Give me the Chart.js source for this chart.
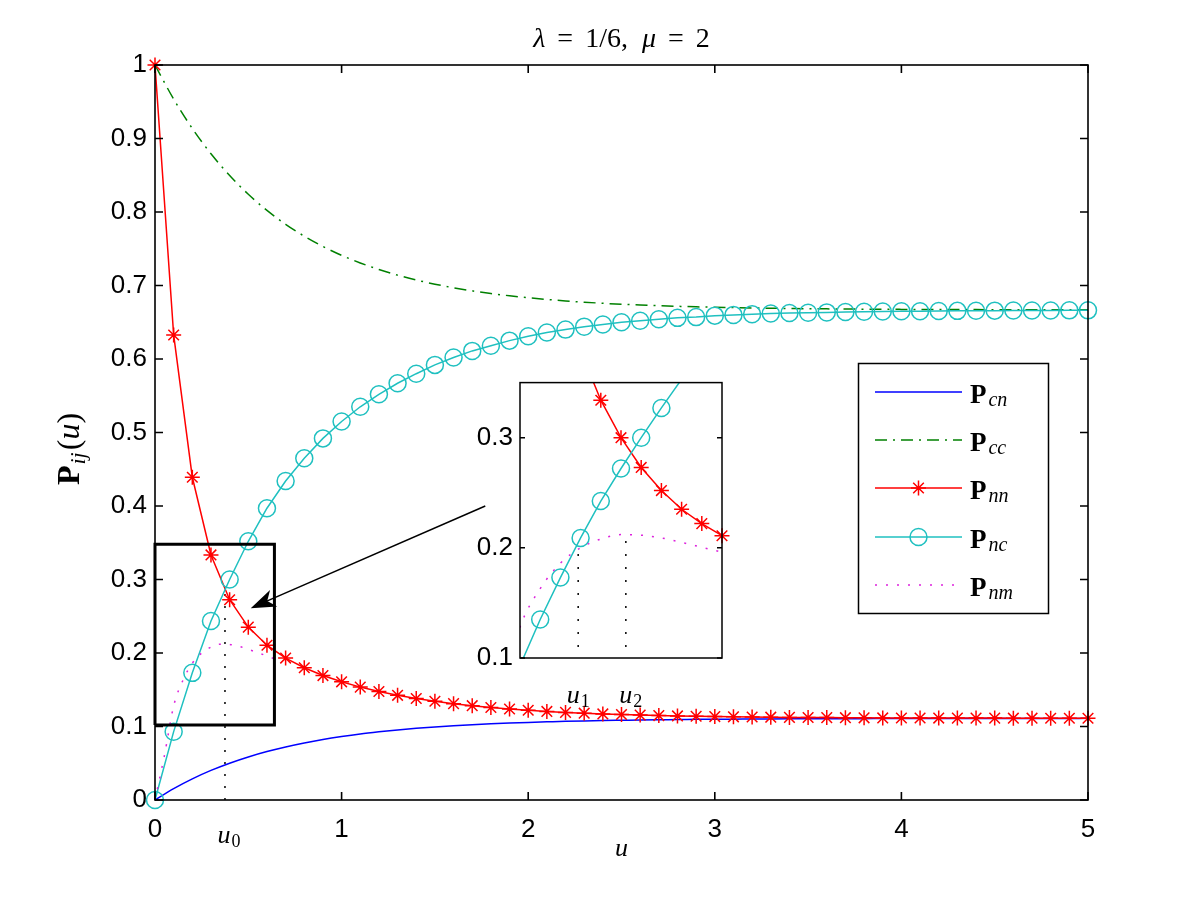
<!DOCTYPE html>
<html lang="en">
<head>
<meta charset="UTF-8" />
<title>P_ij(u), lambda = 1/6, mu = 2</title>
<script src="https://cdn.jsdelivr.net/npm/chart.js"></script>
<style>
  body { margin: 0; background: #fff; }
  #wrap { position: relative; width: 1200px; height: 901px; }
  #main { position: absolute; left: 0; top: 0; }
  #inset { position: absolute; left: 440px; top: 360px; }
</style>
</head>
<body>
<div id="wrap">
  <canvas id="main" width="1200" height="901"></canvas>
  <canvas id="inset" width="300" height="370"></canvas>
</div>

<script>
// ---- values ----
const uMain = [0, 0.1, 0.2, 0.3, 0.4, 0.5, 0.6, 0.7, 0.8, 0.9,
  1, 1.1, 1.2, 1.3, 1.4, 1.5, 1.6, 1.7, 1.8, 1.9,
  2, 2.1, 2.2, 2.3, 2.4, 2.5, 2.6, 2.7, 2.8, 2.9,
  3, 3.1, 3.2, 3.3, 3.4, 3.5, 3.6, 3.7, 3.8, 3.9,
  4, 4.1, 4.2, 4.3, 4.4, 4.5, 4.6, 4.7, 4.8, 4.9, 5];

const pcn = [0, 0.0155, 0.0288, 0.0403, 0.0501, 0.0586, 0.0659, 0.0722, 0.0776, 0.0823,
  0.0863, 0.0898, 0.0927, 0.0953, 0.0975, 0.0994, 0.1010, 0.1024, 0.1036, 0.1047,
  0.1056, 0.1063, 0.1070, 0.1076, 0.1081, 0.1085, 0.1089, 0.1092, 0.1094, 0.1097,
  0.1099, 0.1100, 0.1102, 0.1103, 0.1104, 0.1105, 0.1106, 0.1107, 0.1107, 0.1108,
  0.1108, 0.1109, 0.1109, 0.1109, 0.1110, 0.1110, 0.1110, 0.1110, 0.1110, 0.1110, 0.1111];

const pcc = [1.0, 0.9536, 0.9136, 0.8792, 0.8496, 0.8241, 0.8022, 0.7833, 0.7671, 0.7531,
  0.7410, 0.7307, 0.7218, 0.7141, 0.7075, 0.7018, 0.6969, 0.6927, 0.6891, 0.6860,
  0.6833, 0.6810, 0.6790, 0.6773, 0.6758, 0.6745, 0.6734, 0.6725, 0.6717, 0.6710,
  0.6704, 0.6699, 0.6694, 0.6690, 0.6687, 0.6684, 0.6682, 0.6680, 0.6678, 0.6677,
  0.6675, 0.6674, 0.6673, 0.6672, 0.6672, 0.6671, 0.6670, 0.6670, 0.6669, 0.6669, 0.6669];

const pnn = [1.0, 0.6327, 0.4391, 0.3334, 0.2725, 0.2352, 0.2106, 0.1931, 0.1799, 0.1693,
  0.1608, 0.1536, 0.1476, 0.1424, 0.1381, 0.1343, 0.1311, 0.1283, 0.1259, 0.1238,
  0.1221, 0.1205, 0.1192, 0.1181, 0.1171, 0.1163, 0.1155, 0.1149, 0.1144, 0.1139,
  0.1135, 0.1132, 0.1129, 0.1127, 0.1124, 0.1122, 0.1121, 0.1120, 0.1118, 0.1117,
  0.1116, 0.1116, 0.1115, 0.1114, 0.1114, 0.1114, 0.1113, 0.1113, 0.1112, 0.1112, 0.1112];

const pnc = [0, 0.093, 0.173, 0.2435, 0.300, 0.352, 0.397, 0.434, 0.465, 0.492,
  0.515, 0.535, 0.552, 0.567, 0.580, 0.592, 0.602, 0.611, 0.618, 0.625,
  0.631, 0.636, 0.640, 0.644, 0.647, 0.650, 0.652, 0.654, 0.656, 0.657,
  0.659, 0.660, 0.661, 0.662, 0.6626, 0.663, 0.6634, 0.6639, 0.6643, 0.6646,
  0.6649, 0.665, 0.6653, 0.6655, 0.6657, 0.6658, 0.6659, 0.666, 0.6661, 0.6662, 0.6662];

const uNm = [0, 0.05, 0.1, 0.15, 0.2, 0.25, 0.3, 0.35, 0.4, 0.45, 0.5, 0.55, 0.6, 0.65];
const pnm = [0, 0.06, 0.128, 0.163, 0.186, 0.2, 0.208, 0.212, 0.2115, 0.209, 0.205, 0.2005, 0.196, 0.191];

// inset uses a finer step
const uFine = [0.1, 0.15, 0.2, 0.25, 0.3, 0.35, 0.4, 0.45, 0.5, 0.55, 0.6];
const pnnFine = [0.633, 0.521, 0.439, 0.379, 0.334, 0.300, 0.273, 0.252, 0.235, 0.222, 0.211];
const pncFine = [0.093, 0.135, 0.173, 0.209, 0.2425, 0.272, 0.300, 0.327, 0.353, 0.376, 0.397];

const xTicks = [0, 1, 2, 3, 4, 5];
const yTicks = [0, 0.1, 0.2, 0.3, 0.4, 0.5, 0.6, 0.7, 0.8, 0.9, 1];
const insetYTicks = [0.1, 0.2, 0.3];
const seriesSubs = ['cn', 'cc', 'nn', 'nc', 'nm'];

const u0 = 0.375, u0Top = 0.285;
const u1 = 0.244, u1Top = 0.2;
const u2 = 0.362, u2Top = 0.213;
const dotBottom = 0.11;
const zoomBox = [[0, 0.102], [0.64, 0.102], [0.64, 0.348], [0, 0.348], [0, 0.102]];
const arrowFrom = [1.77, 0.40], arrowTo = [0.513, 0.261];

// ---- styling ----
const SANS = '"Liberation Sans", Arial, sans-serif';
const SERIF = '"Liberation Serif", "DejaVu Serif", serif';
const BLUE = '#0000ff', GREEN = '#008000', RED = '#ff0000', CYAN = '#1fc0c0', MAG = '#dd22dd';

const pts = (xs, ys) => xs.map((x, i) => ({ x: x, y: ys[i] }));

function drawRuns(ctx, parts, x, y, align) {
  let w = 0;
  parts.forEach(p => { ctx.font = p.font; w += ctx.measureText(p.t).width + (p.gap || 0); });
  let cx = align === 'center' ? x - w / 2 : x;
  ctx.textAlign = 'left';
  ctx.textBaseline = 'alphabetic';
  parts.forEach(p => {
    ctx.font = p.font;
    ctx.fillText(p.t, cx, y + (p.dy || 0));
    cx += ctx.measureText(p.t).width + (p.gap || 0);
  });
}

function uLabel(sub) {
  return [
    { t: 'u', font: `italic 26px ${SERIF}`, gap: 1 },
    { t: sub, font: `18px ${SERIF}`, dy: 4 }
  ];
}

function drawMarker(ctx, style, x, y, r) {
  ctx.beginPath();
  if (style === 'circle') {
    ctx.arc(x, y, r, 0, Math.PI * 2);
  } else if (style === 'star') {
    for (let k = 0; k < 4; k++) {
      const a = k * Math.PI / 4;
      ctx.moveTo(x - Math.sin(a) * r, y - Math.cos(a) * r);
      ctx.lineTo(x + Math.sin(a) * r, y + Math.cos(a) * r);
    }
  }
  ctx.stroke();
}

function drawFrame(ctx, area, xs, ys, xScale, yScale, tickLen, lw) {
  ctx.save();
  ctx.strokeStyle = '#000';
  ctx.lineWidth = lw;
  ctx.beginPath();
  xs.forEach(v => {
    const px = xScale.getPixelForValue(v);
    ctx.moveTo(px, area.bottom); ctx.lineTo(px, area.bottom - tickLen);
    ctx.moveTo(px, area.top); ctx.lineTo(px, area.top + tickLen);
  });
  ys.forEach(v => {
    const py = yScale.getPixelForValue(v);
    ctx.moveTo(area.left, py); ctx.lineTo(area.left + tickLen, py);
    ctx.moveTo(area.right, py); ctx.lineTo(area.right - tickLen, py);
  });
  ctx.stroke();
  ctx.strokeRect(area.left, area.top, area.right - area.left, area.bottom - area.top);
  ctx.restore();
}

const legendStyles = [
  { color: BLUE, dash: [] },
  { color: GREEN, dash: [12, 6, 2, 6] },
  { color: RED, dash: [], marker: 'star', r: 7.5 },
  { color: CYAN, dash: [], marker: 'circle', r: 8.5 },
  { color: MAG, dash: [2, 9] }
];

const mainDecor = {
  id: 'mainDecor',
  afterDatasetsDraw(chart) {
    const ctx = chart.ctx, a = chart.chartArea;
    const xs = chart.scales.x, ys = chart.scales.y;
    drawFrame(ctx, a, xTicks, yTicks, xs, ys, 8, 1.6);

    // arrow from inset to zoom box
    const x0 = xs.getPixelForValue(arrowFrom[0]), y0 = ys.getPixelForValue(arrowFrom[1]);
    const x1 = xs.getPixelForValue(arrowTo[0]), y1 = ys.getPixelForValue(arrowTo[1]);
    const len = Math.hypot(x1 - x0, y1 - y0);
    const dx = (x1 - x0) / len, dy = (y1 - y0) / len;
    const nx = -dy, ny = dx;
    const L = 25, W = 9;
    ctx.save();
    ctx.strokeStyle = '#000';
    ctx.fillStyle = '#000';
    ctx.lineWidth = 1.5;
    ctx.beginPath();
    ctx.moveTo(x0, y0);
    ctx.lineTo(x1 - dx * L * 0.7, y1 - dy * L * 0.7);
    ctx.stroke();
    ctx.beginPath();
    ctx.moveTo(x1, y1);
    ctx.lineTo(x1 - dx * L + nx * W, y1 - dy * L + ny * W);
    ctx.lineTo(x1 - dx * L * 0.72, y1 - dy * L * 0.72);
    ctx.lineTo(x1 - dx * L - nx * W, y1 - dy * L - ny * W);
    ctx.closePath();
    ctx.fill();
    ctx.restore();
  },
  afterDraw(chart) {
    const ctx = chart.ctx, a = chart.chartArea;
    const xs = chart.scales.x;
    ctx.save();
    ctx.fillStyle = '#000';

    // title
    const cx = (a.left + a.right) / 2;
    drawRuns(ctx, [
      { t: 'λ', font: `italic 28px ${SERIF}`, gap: 12 },
      { t: '=', font: `28px ${SERIF}`, gap: 12 },
      { t: '1/6,', font: `28px ${SERIF}`, gap: 14 },
      { t: 'μ', font: `italic 28px ${SERIF}`, gap: 12 },
      { t: '=', font: `28px ${SERIF}`, gap: 12 },
      { t: '2', font: `28px ${SERIF}` }
    ], cx, 47, 'center');

    // axis labels
    drawRuns(ctx, [{ t: 'u', font: `italic 26px ${SERIF}` }], cx, 856, 'center');
    drawRuns(ctx, uLabel('0'), xs.getPixelForValue(u0) + 4, 843, 'center');

    ctx.save();
    ctx.translate(79, 449);
    ctx.rotate(-Math.PI / 2);
    drawRuns(ctx, [
      { t: 'P', font: `bold 32px ${SERIF}`, gap: 1 },
      { t: 'ij', font: `italic 22px ${SERIF}`, dy: 6, gap: 2 },
      { t: '(', font: `32px ${SERIF}` },
      { t: 'u', font: `italic 32px ${SERIF}` },
      { t: ')', font: `32px ${SERIF}` }
    ], 0, 0, 'center');
    ctx.restore();

    // legend
    ctx.strokeStyle = '#000';
    ctx.lineWidth = 1.5;
    ctx.fillStyle = '#fff';
    ctx.fillRect(858.5, 363.5, 190, 250);
    ctx.strokeRect(858.5, 363.5, 190, 250);
    const rows = [392, 440, 488, 537, 585];
    legendStyles.forEach((s, i) => {
      const y = rows[i];
      ctx.strokeStyle = s.color;
      ctx.lineWidth = 1.5;
      ctx.setLineDash(s.dash);
      ctx.beginPath();
      ctx.moveTo(875, y);
      ctx.lineTo(962, y);
      ctx.stroke();
      ctx.setLineDash([]);
      if (s.marker) drawMarker(ctx, s.marker, 918.5, y, s.r);
      ctx.fillStyle = '#000';
      drawRuns(ctx, [
        { t: 'P', font: `bold 27px ${SERIF}`, gap: 2 },
        { t: seriesSubs[i], font: `italic 20px ${SERIF}`, dy: 3 }
      ], 970, y + 11, 'left');
    });
    ctx.restore();
  }
};

const lineBase = { fill: false, tension: 0, pointRadius: 0, borderWidth: 1.5, clip: false };

new Chart(document.getElementById('main'), {
  type: 'line',
  data: {
    datasets: [
      { ...lineBase, data: pts(uMain, pcn), borderColor: BLUE, cubicInterpolationMode: 'monotone', order: 4 },
      { ...lineBase, data: pts(uMain, pcc), borderColor: GREEN, borderDash: [12, 6, 2, 6], cubicInterpolationMode: 'monotone', order: 3 },
      { ...lineBase, data: pts(uMain, pnn), borderColor: RED, pointStyle: 'star', pointRadius: 7.5,
        pointBorderColor: RED, pointBorderWidth: 1.5, order: 2 },
      { ...lineBase, data: pts(uMain, pnc), borderColor: CYAN, pointStyle: 'circle', pointRadius: 8.5,
        pointBackgroundColor: 'rgba(0,0,0,0)', pointBorderColor: CYAN, pointBorderWidth: 1.5, order: 1 },
      { ...lineBase, data: pts(uNm, pnm), borderColor: MAG, borderDash: [2, 9], cubicInterpolationMode: 'monotone', order: 0 },
      { ...lineBase, data: [{ x: u0, y: 0 }, { x: u0, y: u0Top }], borderColor: '#000', borderDash: [2, 10], order: 5 },
      { ...lineBase, data: zoomBox.map(p => ({ x: p[0], y: p[1] })), borderColor: '#000', borderWidth: 3, order: -1 }
    ]
  },
  options: {
    responsive: false,
    animation: false,
    events: [],
    layout: { padding: { left: 0, top: 65, right: 112, bottom: 0 } },
    plugins: { legend: { display: false }, tooltip: { enabled: false } },
    scales: {
      x: {
        type: 'linear', min: 0, max: 5,
        grid: { display: false, drawTicks: false }, border: { display: false },
        afterBuildTicks: s => { s.ticks = xTicks.map(v => ({ value: v })); },
        afterFit: s => { s.height = 101; },
        ticks: { font: { family: SANS, size: 26 }, color: '#000', padding: 14, maxRotation: 0,
                 callback: v => String(v) }
      },
      y: {
        type: 'linear', min: 0, max: 1,
        grid: { display: false, drawTicks: false }, border: { display: false },
        afterBuildTicks: s => { s.ticks = yTicks.map(v => ({ value: v })); },
        afterFit: s => { s.width = 155; },
        ticks: { font: { family: SANS, size: 26 }, color: '#000', padding: 8,
                 callback: v => String(+v.toFixed(1)) }
      }
    }
  },
  plugins: [mainDecor]
});

// ---- inset ----
const insetDecor = {
  id: 'insetDecor',
  beforeDatasetsDraw(chart) {
    const ctx = chart.ctx, a = chart.chartArea;
    ctx.save();
    ctx.fillStyle = '#fff';
    ctx.fillRect(a.left, a.top, a.right - a.left, a.bottom - a.top);
    ctx.restore();
  },
  afterDatasetsDraw(chart) {
    const ctx = chart.ctx, a = chart.chartArea;
    const xs = chart.scales.x, ys = chart.scales.y;
    drawFrame(ctx, a, [], insetYTicks, xs, ys, 5, 1.5);
    ctx.save();
    ctx.fillStyle = '#000';
    drawRuns(ctx, uLabel('1'), xs.getPixelForValue(u1), 343, 'center');
    drawRuns(ctx, uLabel('2'), xs.getPixelForValue(u2) + 5, 343, 'center');
    ctx.restore();
  }
};

const inRange = (c, r) => (c.raw && (c.raw.y > 0.35 || c.raw.y < 0.1)) ? 0 : r;
const clipBox = { left: 0, top: 0, right: 0, bottom: 0 };

new Chart(document.getElementById('inset'), {
  type: 'line',
  data: {
    datasets: [
      { ...lineBase, clip: clipBox, data: pts(uNm, pnm), borderColor: MAG, borderDash: [2, 9], cubicInterpolationMode: 'monotone', order: 0 },
      { ...lineBase, clip: clipBox, data: pts(uFine, pncFine), borderColor: CYAN, pointStyle: 'circle',
        pointRadius: c => inRange(c, 8.5), pointBackgroundColor: 'rgba(0,0,0,0)', pointBorderColor: CYAN, pointBorderWidth: 1.5, order: 1 },
      { ...lineBase, clip: { left: 0, top: 0, right: 10, bottom: 0 }, data: pts(uFine, pnnFine), borderColor: RED, pointStyle: 'star',
        pointRadius: c => inRange(c, 7.5), pointBorderColor: RED, pointBorderWidth: 1.5, order: 2 },
      { ...lineBase, clip: clipBox, data: [{ x: u1, y: dotBottom }, { x: u1, y: u1Top }], borderColor: '#000', borderDash: [2, 11], order: 3 },
      { ...lineBase, clip: clipBox, data: [{ x: u2, y: dotBottom }, { x: u2, y: u2Top }], borderColor: '#000', borderDash: [2, 11], order: 3 }
    ]
  },
  options: {
    responsive: false,
    animation: false,
    events: [],
    layout: { padding: { left: 0, top: 13, right: 18, bottom: 0 } },
    plugins: { legend: { display: false }, tooltip: { enabled: false } },
    scales: {
      x: {
        type: 'linear', min: 0.1, max: 0.6,
        grid: { display: false, drawTicks: false }, border: { display: false },
        ticks: { display: false },
        afterFit: s => { s.height = 72; }
      },
      y: {
        type: 'linear', min: 0.1, max: 0.35,
        grid: { display: false, drawTicks: false }, border: { display: false },
        afterBuildTicks: s => { s.ticks = insetYTicks.map(v => ({ value: v })); },
        afterFit: s => { s.width = 80; },
        ticks: { font: { family: SANS, size: 26 }, color: '#000', padding: 7,
                 callback: v => String(+v.toFixed(1)) }
      }
    }
  },
  plugins: [insetDecor]
});
</script>
</body>
</html>
